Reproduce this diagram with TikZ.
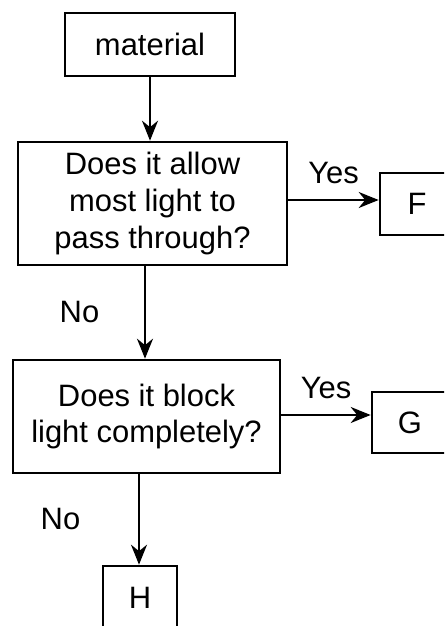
\documentclass[tikz,border=0pt]{standalone}
\usepackage{fontspec}
\setmainfont{Liberation Sans}
\usepackage{tikz}
\usetikzlibrary{
  arrows.meta,
  positioning
}

\begin{document}
\begin{tikzpicture}[
      >=Stealth,
      every node/.style={font=\fontsize{8.8}{10.5}\selectfont},
      qbox/.style={draw=black, line width=0.75pt, align=center, inner sep=0pt},
      endbox/.style={draw=black, line width=0.75pt, inner sep=0pt},
      seta/.style={-{Stealth[length=2mm, width=1.6mm]}, line width=0.6pt, black}
  ]
      \useasboundingbox (0,0) rectangle (4.44,6.26);
      \clip (0,0) rectangle (4.44,6.26);

      % Caixas
      \node[endbox, minimum width=1.70cm, minimum height=0.63cm] (material) at (1.50, 5.815) {material};
      \node[qbox, minimum width=2.69cm, minimum height=1.23cm] (allow) at (1.525, 4.225) {Does it allow\\most light to\\pass through?};
      \node[endbox, minimum width=0.74cm, minimum height=0.62cm] (F) at (4.17, 4.22) {F};
      \node[qbox, minimum width=2.67cm, minimum height=1.13cm] (block) at (1.465, 2.095) {Does it block\\light completely?};
      \node[endbox, minimum width=0.76cm, minimum height=0.61cm] (G) at (4.10, 2.035) {G};
      \node[endbox, minimum width=0.74cm, minimum height=0.64cm] (H) at (1.40, 0.28) {H};

      % Setas
      \draw[seta] (material.south) -- (material.south |- allow.north);
      \draw[seta] (allow.east |- 0,4.26) -- (F.west |- 0,4.26)
          node[above, midway, yshift=1pt] (yes1) {Yes};
      \draw[seta] (allow.south -| 1.45,0) -- (block.north -| 1.45,0)
          node[left=3.3mm, midway] (no1) {No};
      \draw[seta] (block.east |- 0,2.11) -- (G.west |- 0,2.11)
          node[above, midway, yshift=1pt] (yes2) {Yes};
      \draw[seta] (block.south -| 1.39,0) -- (H.north -| 1.39,0)
          node[left=4.6mm, midway] (no2) {No};
  \end{tikzpicture}
\end{document}
